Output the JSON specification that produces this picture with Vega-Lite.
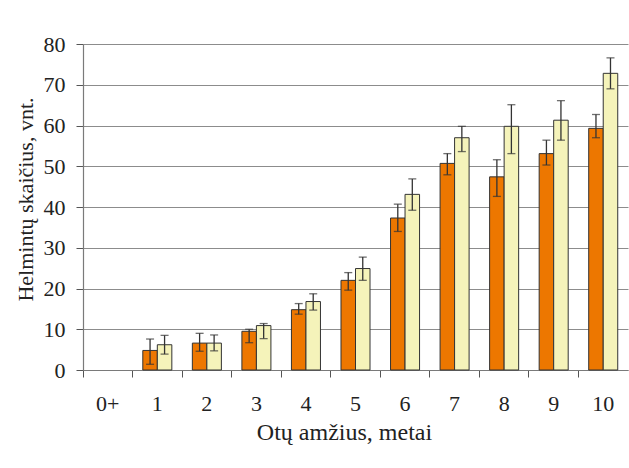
{
  "$schema": "https://vega.github.io/schema/vega-lite/v6.json",
  "width": 545,
  "height": 326,
  "autosize": {"type": "none"},
  "padding": {"left": 83, "top": 44, "right": 1, "bottom": 98},
  "background": "white",
  "config": {
    "view": {"stroke": null},
    "font": "Liberation Serif",
    "axis": {
      "labelFont": "Liberation Serif",
      "titleFont": "Liberation Serif",
      "labelFontSize": 22,
      "titleFontSize": 23,
      "labelColor": "#222",
      "titleColor": "#222",
      "titleFontWeight": "normal",
      "domainColor": "#7a7a7a",
      "domainWidth": 1.2,
      "tickColor": "#555",
      "gridColor": "#8c8c8c",
      "tickSize": 7
    }
  },
  "data": {
    "values": [
      {"age": "1", "s": "a", "v": 4.8, "lo": 1.4, "hi": 7.6},
      {"age": "1", "s": "b", "v": 6.2, "lo": 3.9, "hi": 8.5},
      {"age": "2", "s": "a", "v": 6.6, "lo": 4.6, "hi": 9.0},
      {"age": "2", "s": "b", "v": 6.6, "lo": 4.7, "hi": 8.6},
      {"age": "3", "s": "a", "v": 9.5, "lo": 6.7, "hi": 10.0},
      {"age": "3", "s": "b", "v": 10.9, "lo": 7.7, "hi": 11.4},
      {"age": "4", "s": "a", "v": 14.8, "lo": 13.7, "hi": 16.3},
      {"age": "4", "s": "b", "v": 16.8, "lo": 14.7, "hi": 18.7},
      {"age": "5", "s": "a", "v": 22.0, "lo": 19.6, "hi": 23.9},
      {"age": "5", "s": "b", "v": 24.9, "lo": 22.0, "hi": 27.7},
      {"age": "6", "s": "a", "v": 37.3, "lo": 34.0, "hi": 40.7},
      {"age": "6", "s": "b", "v": 43.1, "lo": 39.2, "hi": 46.9},
      {"age": "7", "s": "a", "v": 50.7, "lo": 47.9, "hi": 53.1},
      {"age": "7", "s": "b", "v": 57.0, "lo": 53.6, "hi": 59.8},
      {"age": "8", "s": "a", "v": 47.4, "lo": 42.6, "hi": 51.6},
      {"age": "8", "s": "b", "v": 59.8, "lo": 53.1, "hi": 65.1},
      {"age": "9", "s": "a", "v": 53.1, "lo": 50.3, "hi": 56.4},
      {"age": "9", "s": "b", "v": 61.3, "lo": 56.4, "hi": 66.1},
      {"age": "10", "s": "a", "v": 59.3, "lo": 57.0, "hi": 62.7},
      {"age": "10", "s": "b", "v": 72.8, "lo": 69.0, "hi": 76.6}
    ]
  },
  "encoding": {
    "x": {
      "field": "age",
      "type": "nominal",
      "scale": {
        "domain": ["0+", "1", "2", "3", "4", "5", "6", "7", "8", "9", "10"],
        "paddingInner": 0,
        "paddingOuter": 0
      },
      "axis": {
        "title": "Otų amžius, metai",
        "titleFontSize": 24,
        "labelAngle": 0,
        "bandPosition": 0,
        "labelDx": 24.75,
        "labelAlign": "center",
        "labelPadding": 16,
        "titlePadding": 6,
        "titleX": 261
      }
    },
    "xOffset": {
      "field": "s",
      "type": "nominal",
      "scale": {"paddingInner": 0, "paddingOuter": 0.707}
    }
  },
  "layer": [
    {
      "mark": {"type": "bar", "stroke": "#333", "strokeWidth": 1},
      "encoding": {
        "y": {
          "field": "v",
          "type": "quantitative",
          "scale": {"domain": [0, 80]},
          "axis": {
            "title": "Helmintų skaičius, vnt.",
            "titleFontSize": 22,
            "values": [0, 10, 20, 30, 40, 50, 60, 70, 80],
            "grid": true,
            "labelPadding": 11,
            "titlePadding": 6,
            "titleY": 155
          }
        },
        "fill": {
          "field": "s",
          "type": "nominal",
          "scale": {"domain": ["a", "b"], "range": ["#ED7700", "#F5F3BA"]},
          "legend": null
        }
      }
    },
    {
      "mark": {"type": "rule", "color": "#333", "strokeWidth": 1.3},
      "encoding": {
        "y": {"field": "lo", "type": "quantitative"},
        "y2": {"field": "hi"}
      }
    },
    {
      "mark": {"type": "tick", "color": "#333", "size": 8, "thickness": 1.3, "orient": "horizontal"},
      "encoding": {"y": {"field": "lo", "type": "quantitative"}}
    },
    {
      "mark": {"type": "tick", "color": "#333", "size": 8, "thickness": 1.3, "orient": "horizontal"},
      "encoding": {"y": {"field": "hi", "type": "quantitative"}}
    }
  ]
}
